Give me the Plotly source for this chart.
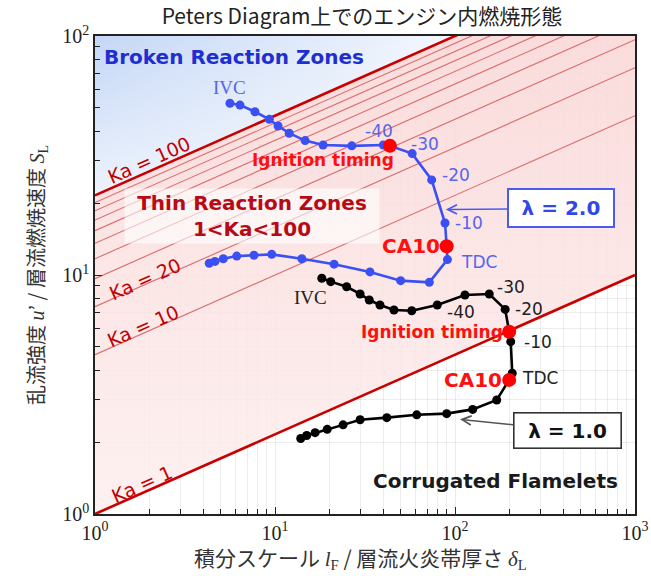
import numpy as np
import plotly.graph_objects as go

# ---------------- data ----------------
# lambda = 2.0 trajectory (from IVC through ignition, CA10, TDC and expansion)
lam2_x = [5.62, 6.39, 7.74, 9.30, 10.4, 12.0, 14.7, 18.5, 26.7, 40.0, 43.5, 57.8, 74.2, 88.0,
          89.9, 90.8, 72.0, 49.9, 33.7, 21.3, 14.1, 9.59, 7.64, 6.13, 5.16, 4.64, 4.31]
lam2_y = [52.3, 51.4, 48.2, 44.8, 42.0, 39.2, 36.5, 35.0, 34.7, 35.0, 34.7, 32.2, 25.0, 16.5,
          13.2, 11.6, 9.32, 9.47, 10.3, 11.1, 11.7, 12.2, 12.1, 12.0, 11.7, 11.4, 11.2]
lam2_events_x = [43.5, 89.9]   # ignition timing, CA10
lam2_events_y = [34.7, 13.2]

# lambda = 1.0 trajectory
lam1_x = [18.2, 20.4, 25.0, 29.7, 33.4, 38.3, 45.8, 57.5, 79.7, 113.6, 155, 190, 200, 204,
          208, 200, 170.5, 125.4, 89.9, 61.3, 41.8, 29.7, 23.9, 19.5, 16.7, 15.0, 13.9]
lam1_y = [9.69, 9.38, 8.93, 8.33, 7.86, 7.49, 7.14, 7.09, 7.49, 8.25, 8.33, 7.18, 5.79, 5.26,
          3.88, 3.64, 3.00, 2.74, 2.63, 2.60, 2.53, 2.48, 2.36, 2.26, 2.19, 2.13, 2.07]
lam1_events_x = [200, 200]     # ignition timing, CA10
lam1_events_y = [5.79, 3.64]

# points the lambda callout arrows point to
lam2_arrow_tip = (88.8, 18.8)
lam1_arrow_tip = (106.6, 2.49)

# Karlovitz number iso-lines
ka_values = [1, 10, 20, 30, 40, 50, 60, 70, 80, 90, 100]
ka_labels = ["Ka = 1", "Ka = 10", "Ka = 20", "Ka = 100"]

# crank-angle labels: (index in series, text)
lam2_angle_labels = [(0, "IVC"), (9, "-40"), (11, "-30"), (12, "-20"), (13, "-10"), (15, "TDC")]
lam1_angle_labels = [(0, "IVC"), (8, "-40"), (10, "-30"), (11, "-20"), (13, "-10"), (14, "TDC")]

# axis ticks
x_tickvals = [1, 10, 100, 1000]
x_ticktext = ["10<sup>0</sup>", "10<sup>1</sup>", "10<sup>2</sup>", "10<sup>3</sup>"]
y_tickvals = [1, 10, 100]
y_ticktext = ["10<sup>0</sup>", "10<sup>1</sup>", "10<sup>2</sup>"]

x_range = [1, 1000]
y_range = [1, 100]

# ---------------- figure ----------------
L, R, T, B = 95, 16, 36, 62
W, H = 651, 576
PW, PH = W - L - R, H - T - B


def pp(px, py):
    return (px - L) / PW, (H - B - py) / PH


fig = go.Figure()


def ka_line_y(ka, x):
    return ka ** (2.0 / 3.0) * x ** (1.0 / 3.0)


# pink region above Ka=1
fig.add_trace(go.Scatter(
    x=[x_range[0], x_range[1], x_range[1], x_range[0]],
    y=[ka_line_y(1, x_range[0]), ka_line_y(1, x_range[1]), y_range[1], y_range[1]],
    fill="toself", mode="none",
    fillgradient=dict(type="vertical",
                      colorscale=[[0, "rgba(253,238,238,0.85)"], [1, "rgba(250,216,216,0.9)"]]),
    hoverinfo="skip"))

# blue region above Ka=100 (horizontal gradient + whitening towards the bottom)
xb = y_range[1] ** 3 / 100 ** 2
blue_x = [x_range[0], xb, x_range[0]]
blue_y = [ka_line_y(100, x_range[0]), y_range[1], y_range[1]]
fig.add_trace(go.Scatter(
    x=blue_x, y=blue_y, fill="toself", mode="none",
    fillgradient=dict(type="horizontal",
                      colorscale=[[0, "rgba(196,215,246,1)"], [1, "rgba(244,247,253,1)"]]),
    hoverinfo="skip"))
fig.add_trace(go.Scatter(
    x=blue_x, y=blue_y, fill="toself", mode="none",
    fillgradient=dict(type="vertical",
                      colorscale=[[0, "rgba(255,255,255,0.7)"], [1, "rgba(255,255,255,0)"]]),
    hoverinfo="skip"))

# Ka lines
for ka in ka_values:
    thick = ka in (1, 100)
    fig.add_trace(go.Scatter(
        x=x_range, y=[ka_line_y(ka, x_range[0]), ka_line_y(ka, x_range[1])],
        mode="lines",
        line=dict(color="#c80000" if thick else "rgba(205,70,70,0.75)", width=2.6 if thick else 1.1),
        hoverinfo="skip"))

# trajectories
fig.add_trace(go.Scatter(x=lam2_x, y=lam2_y, mode="lines+markers",
                         line=dict(color="#3b50f2", width=2.6),
                         marker=dict(color="#3b50f2", size=9)))
fig.add_trace(go.Scatter(x=lam1_x, y=lam1_y, mode="lines+markers",
                         line=dict(color="#000000", width=2.6),
                         marker=dict(color="#000000", size=9)))
fig.add_trace(go.Scatter(x=lam2_events_x + lam1_events_x, y=lam2_events_y + lam1_events_y,
                         mode="markers", marker=dict(color="#ff0000", size=14)))

ann = []
serif = "Liberation Serif"
sans = "DejaVu Sans"
lg = np.log10

# crank angle labels, blue
blue_shift = {0: (0, 16), 9: (-4, 14), 11: (13, 10), 12: (24, 5), 13: (24, 0), 15: (32, -2)}
for i, t in lam2_angle_labels:
    dx, dy = blue_shift[i]
    ann.append(dict(x=lg(lam2_x[i]), y=lg(lam2_y[i]), text=t, showarrow=False,
                    xanchor="center", yanchor="middle", xshift=dx, yshift=dy,
                    font=dict(family=serif if t == "IVC" else sans, size=19 if t == "IVC" else 17,
                              color="#5566ee")))
black_shift = {0: (-11, -19), 8: (24, -7), 10: (22, 7), 11: (24, 0), 13: (27, 0), 14: (28, -5)}
for i, t in lam1_angle_labels:
    dx, dy = black_shift[i]
    ann.append(dict(x=lg(lam1_x[i]), y=lg(lam1_y[i]), text=t, showarrow=False,
                    xanchor="center", yanchor="middle", xshift=dx, yshift=dy,
                    font=dict(family=serif if t == "IVC" else sans, size=19 if t == "IVC" else 17,
                              color="#222222")))

# event labels
red_font = dict(family=sans, size=17, color="#ff1010", weight="bold")
ca_font = dict(family=sans, size=20, color="#ff1010", weight="bold")
ann.append(dict(x=lg(lam2_events_x[0]), y=lg(lam2_events_y[0]), text="Ignition timing",
                showarrow=False, xanchor="right", yanchor="middle", xshift=6, yshift=-14, font=red_font))
ann.append(dict(x=lg(lam2_events_x[1]), y=lg(lam2_events_y[1]), text="CA10",
                showarrow=False, xanchor="right", yanchor="middle", xshift=-5, yshift=0, font=ca_font))
ann.append(dict(x=lg(lam1_events_x[0]), y=lg(lam1_events_y[0]), text="Ignition timing",
                showarrow=False, xanchor="right", yanchor="middle", xshift=-4, yshift=0, font=red_font))
ann.append(dict(x=lg(lam1_events_x[1]), y=lg(lam1_events_y[1]), text="CA10",
                showarrow=False, xanchor="right", yanchor="middle", xshift=-5, yshift=0, font=ca_font))

# lambda boxes with arrows
ann.append(dict(x=lg(lam2_arrow_tip[0]), y=lg(lam2_arrow_tip[1]), text="λ = 2.0", showarrow=True,
                ax=115, ay=-1, axref="pixel", ayref="pixel", standoff=0,
                arrowhead=5, arrowsize=1.3, arrowwidth=1.4, arrowcolor="#4a5cf0",
                bordercolor="#4a5cf0", borderwidth=2, borderpad=7, bgcolor="white",
                width=90, height=22,
                font=dict(family=sans, size=20, color="#3347e8", weight="bold")))
ann.append(dict(x=lg(lam1_arrow_tip[0]), y=lg(lam1_arrow_tip[1]), text="λ = 1.0", showarrow=True,
                ax=107, ay=11, axref="pixel", ayref="pixel", standoff=0,
                arrowhead=5, arrowsize=1.3, arrowwidth=1.4, arrowcolor="#555555",
                bordercolor="#333333", borderwidth=1.6, borderpad=6, bgcolor="white",
                width=94, height=22,
                font=dict(family=sans, size=20, color="#111111", weight="bold")))

# Ka labels
ka_pos = {"Ka = 100": (149, 160), "Ka = 20": (145, 279), "Ka = 10": (143, 326), "Ka = 1": (142, 484)}
for t in ka_labels:
    px, py = ka_pos[t]
    xp, yp = pp(px, py)
    ann.append(dict(xref="paper", yref="paper", x=xp, y=yp, xanchor="center", yanchor="middle",
                    text=t, showarrow=False,
                    textangle=-24, font=dict(family=sans, size=19, color="#c00000")))

# regime labels
xp, yp = pp(102, 57)
ann.append(dict(xref="paper", yref="paper", x=xp, y=yp, xanchor="left", yanchor="middle",
                text="Broken Reaction Zones",
                showarrow=False, font=dict(family=sans, size=20, color="#1f2ed0", weight="bold")))
xp, yp = pp(252, 216)
ann.append(dict(xref="paper", yref="paper", x=xp, y=yp, xanchor="center", yanchor="middle",
                text="Thin Reaction Zones<br>1&lt;Ka&lt;100",
                showarrow=False, bgcolor="rgba(255,255,255,0.6)", borderpad=2, width=250,
                font=dict(family=sans, size=20, color="#b80a14", weight="bold")))
xp, yp = pp(495, 481)
ann.append(dict(xref="paper", yref="paper", x=xp, y=yp, xanchor="center", yanchor="middle",
                text="Corrugated Flamelets",
                showarrow=False, font=dict(family=sans, size=20, color="#1a1a1a", weight="bold")))

# x axis title (as paper annotation for exact placement)
xp, yp = pp(360, 557)
ann.append(dict(xref="paper", yref="paper", x=xp, y=yp, xanchor="center", yanchor="middle",
                showarrow=False,
                text="積分スケール <i><span style='font-family:Liberation Serif'>l</span></i>"
                     "<sub><span style='font-family:Liberation Serif'>F</span></sub>"
                     " / 層流火炎帯厚さ <i><span style='font-family:Liberation Serif'>δ</span></i>"
                     "<sub><span style='font-family:Liberation Serif'>L</span></sub>",
                font=dict(family="Noto Sans CJK JP", size=21, color="#333")))

minor_vals_x = [m * 10 ** d for d in range(0, 3) for m in range(2, 10)]
minor_vals_y = [m * 10 ** d for d in range(0, 2) for m in range(2, 10)]

axis_common = dict(type="log",
                   tickfont=dict(family=serif, size=20, color="#222"),
                   ticks="inside", ticklen=7, tickwidth=1.3, tickcolor="#222",
                   showline=True, linecolor="#222", linewidth=1.6, mirror=True,
                   showgrid=True, gridcolor="rgba(0,0,0,0.08)", gridwidth=1, zeroline=False,
                   automargin=False)

fig.update_xaxes(range=[0, 3], tickvals=x_tickvals, ticktext=x_ticktext, **axis_common,
                 minor=dict(tickvals=minor_vals_x, ticks="inside", ticklen=5, tickcolor="#222",
                            showgrid=True, gridcolor="rgba(0,0,0,0.07)"))
fig.update_yaxes(range=[0, 2], tickvals=y_tickvals, ticktext=y_ticktext, **axis_common,
                 minor=dict(tickvals=minor_vals_y, ticks="inside", ticklen=5, tickcolor="#222",
                            showgrid=True, gridcolor="rgba(0,0,0,0.07)"),
                 title=dict(text="乱流強度 <i><span style='font-family:Liberation Serif'>u</span></i>’"
                                 " / 層流燃焼速度 <i><span style='font-family:Liberation Serif'>S</span></i>"
                                 "<sub><span style='font-family:Liberation Serif'>L</span></sub>",
                            font=dict(family="Noto Sans CJK JP", size=20, color="#333"), standoff=12))

fig.update_layout(
    width=W, height=H, margin=dict(l=L, r=R, t=T, b=B, autoexpand=False),
    plot_bgcolor="white", paper_bgcolor="white", showlegend=False,
    title=dict(text="Peters Diagram上でのエンジン内燃焼形態", x=(L + PW / 2 - 3) / W, xanchor="center",
               y=1 - 17 / H, yanchor="middle",
               font=dict(family="Noto Sans CJK JP", size=21, color="#222")),
    annotations=ann,
)

fig.write_html("out.html", config={"displayModeBar": False},
               post_script="document.body.style.margin='0';document.body.style.padding='0';")
